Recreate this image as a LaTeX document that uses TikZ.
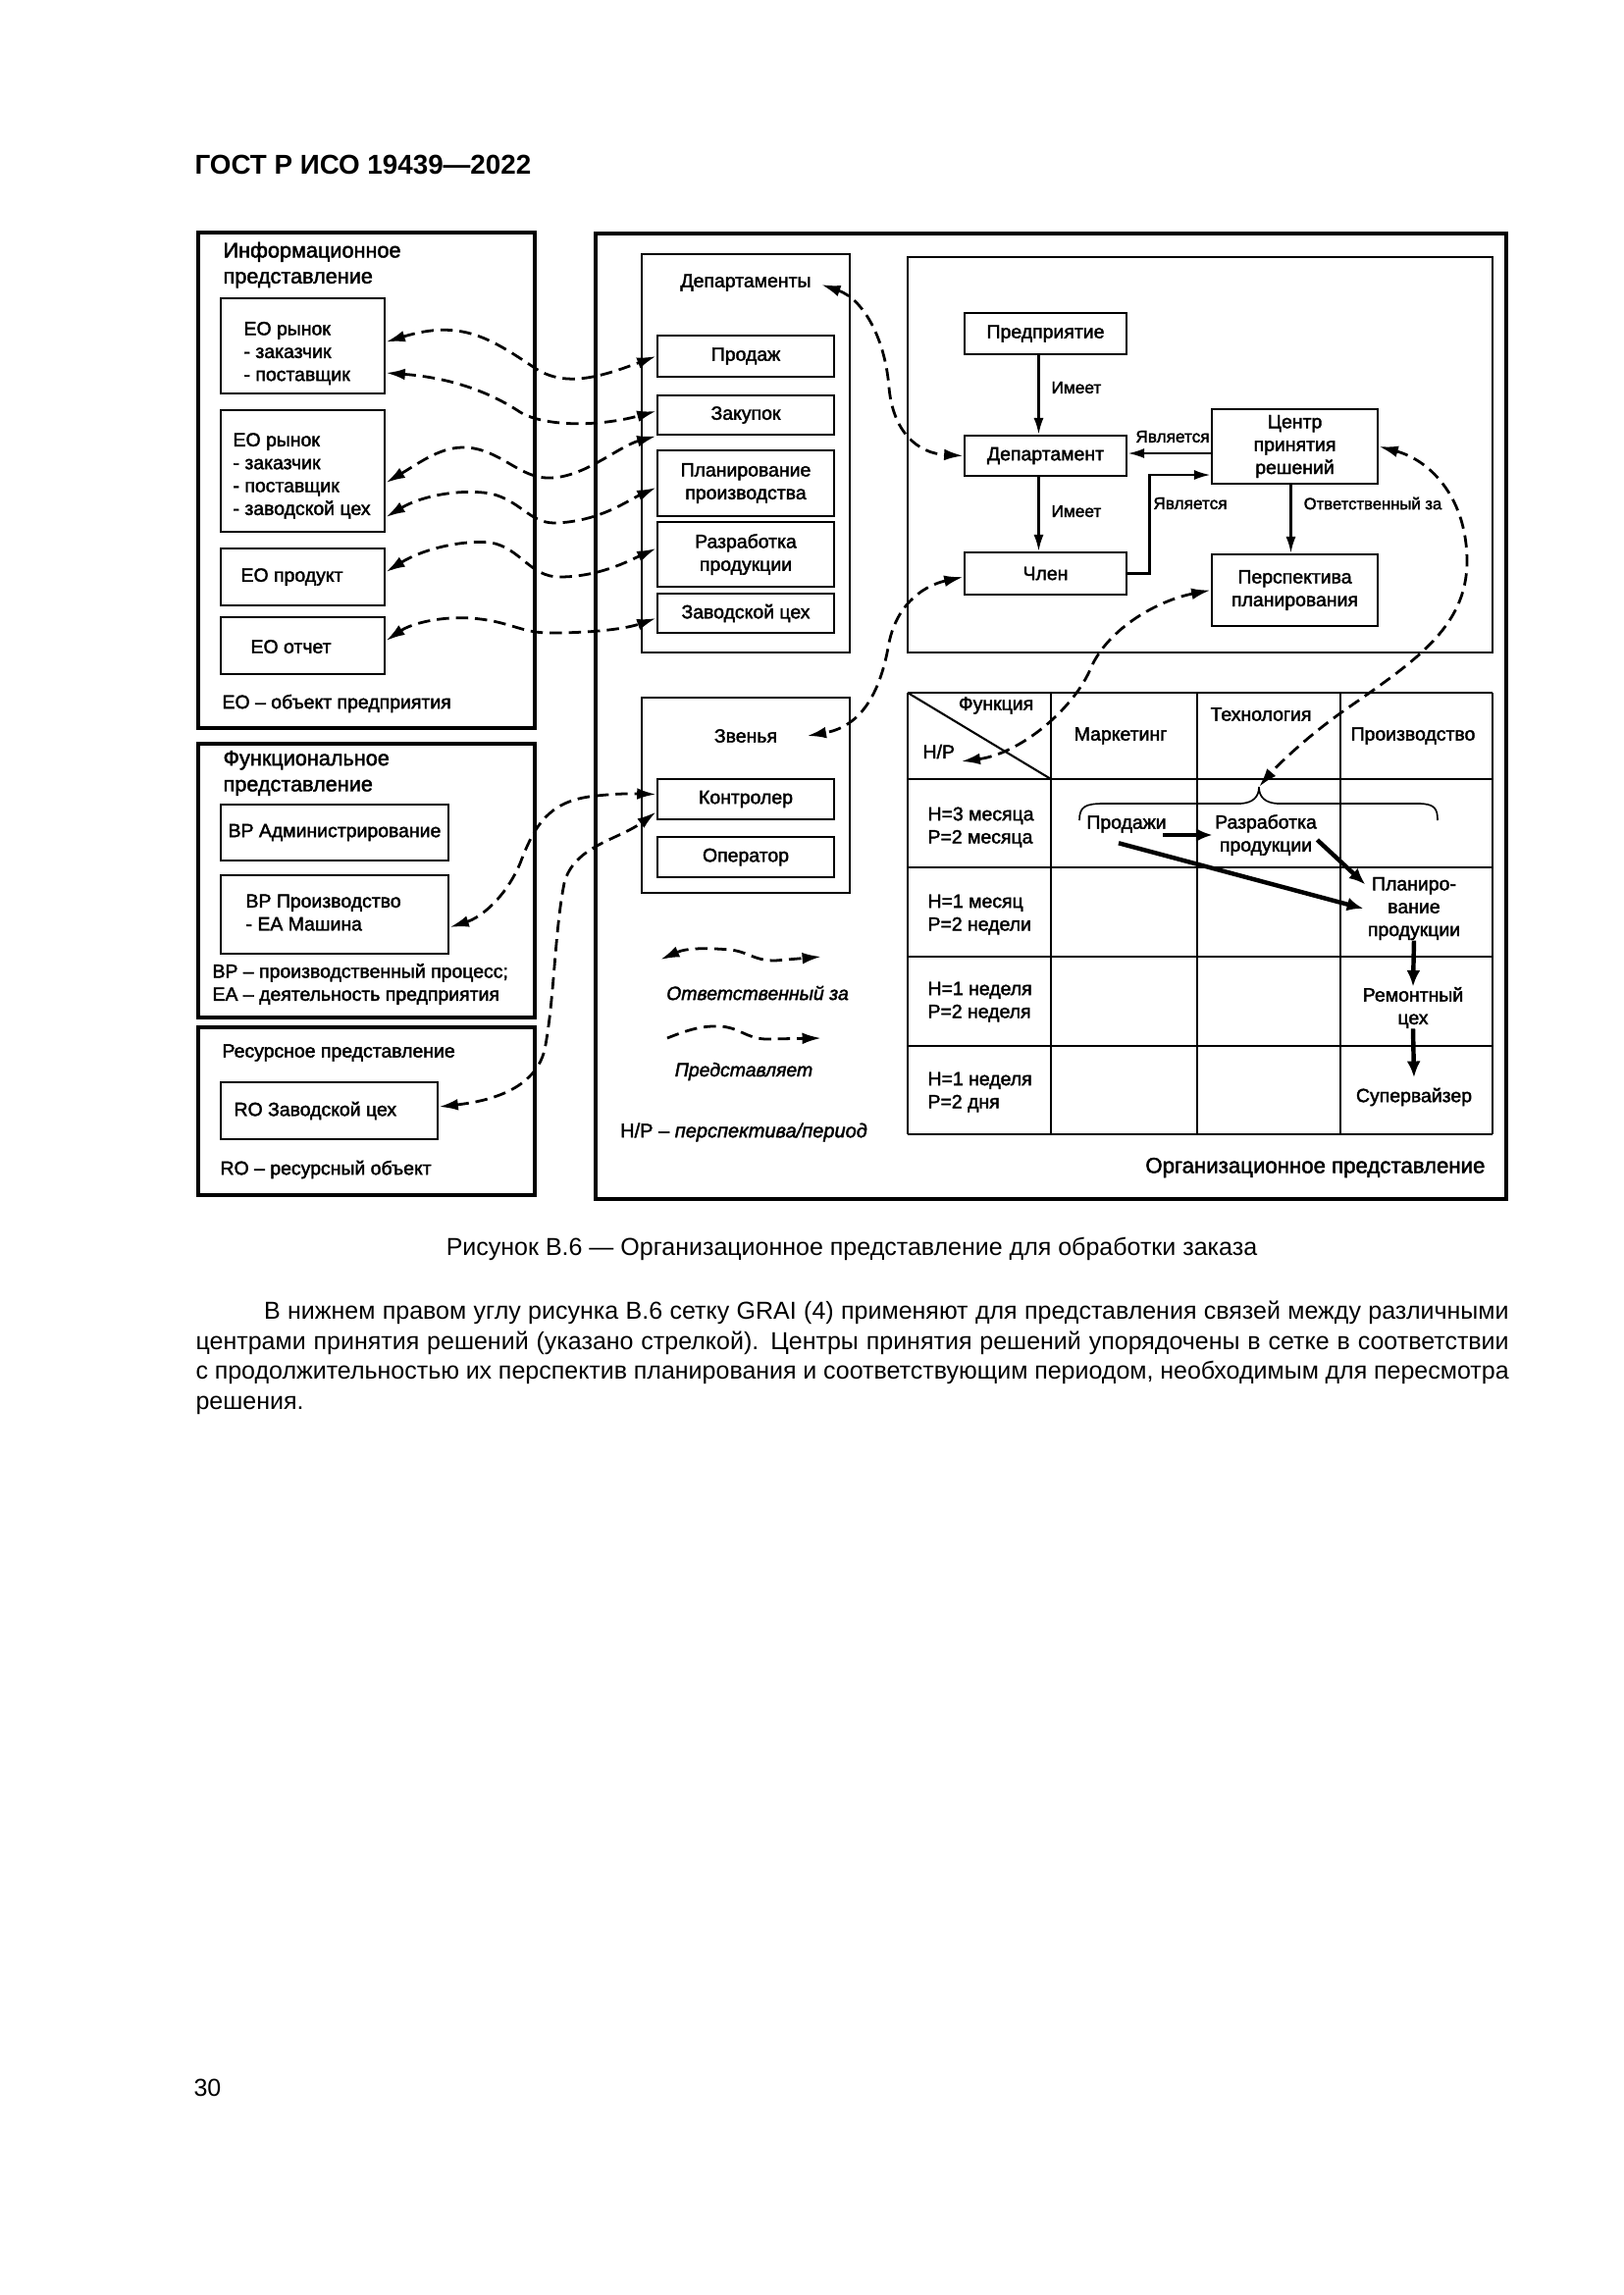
\documentclass[tikz,border=0pt]{standalone}
\usepackage{fontspec}
\setmainfont{Liberation Sans}
\newfontfamily\dg{Liberation Sans}[FakeBold=2]
\usetikzlibrary{arrows.meta,calc}
\tikzset{
 outerbox/.style={line width=1.6pt},
 contbox/.style={line width=0.8pt},
 gridline/.style={line width=0.75pt},
 box/.style={draw, line width=1pt, inner sep=0pt, align=center, font=\dg\fontsize{7}{8.4}\selectfont},
 txt/.style={inner sep=0pt, align=left, font=\dg\fontsize{7}{8.4}\selectfont},
 ttl/.style={inner sep=0pt, align=left, font=\dg\fontsize{7.8}{9.5}\selectfont},
 lbl/.style={inner sep=0pt, font=\dg\fontsize{6.2}{7}\selectfont},
 itl/.style={inner sep=0pt, font=\dg\itshape\fontsize{7}{9}\selectfont},
 dd/.style={line width=1pt, dash pattern=on 4.5pt off 2.5pt, {Latex[length=7pt,width=4.2pt]}-{Latex[length=7pt,width=4.2pt]}},
 ds/.style={line width=1pt, dash pattern=on 4.5pt off 2.5pt, -{Latex[length=7pt,width=4.2pt]}},
 sarrow/.style={line width=0.8pt, -{Latex[length=6pt,width=3.6pt]}},
 garrow/.style={line width=1.6pt, -{Latex[length=6pt,width=5pt]}},
}
\newcommand\mkbox[6][]{\node[box,minimum width={(#5-#3)*0.36pt},minimum height={(#6-#4)*0.36pt},#1] (#2) at ({(#3+#5)/2},{(#4+#6)/2})}
\begin{document}
\begin{tikzpicture}[x=0.36pt,y=-0.36pt]
\fill[white] (0,0) rectangle (1654,2339);
\useasboundingbox (0,0) rectangle (1654,2339);

% header
\node[inner sep=0pt, anchor=west, font=\bfseries\fontsize{10}{12}\selectfont] (hdr) at (198,168) {ГОСТ Р ИСО 19439—2022};

% containers
\draw[outerbox] (202,237) rectangle (545,742);
\draw[outerbox] (202,758) rectangle (545,1037);
\draw[outerbox] (202,1047) rectangle (545,1218);
\draw[outerbox] (607,238) rectangle (1535,1222);
\draw[contbox] (654,259) rectangle (866,665);
\draw[contbox] (654,711) rectangle (866,910);
\draw[contbox] (925,262) rectangle (1521,665);

% information view
\node[ttl, anchor=west] (infoT) at (227,270) {Информационное\\представление};
\mkbox{eo1}{225}{304}{392}{401}{};
\node[txt, anchor=west] (eo1t) at (248,360) {EO рынок\\- заказчик\\- поставщик};
\mkbox{eo2}{225}{418}{392}{542}{};
\node[txt, anchor=west] (eo2t) at (237,485) {EO рынок\\- заказчик\\- поставщик\\- заводской цех};
\mkbox{eo3}{225}{559}{392}{617}{};
\node[txt, anchor=west] (eo3t) at (245,588) {EO продукт};
\mkbox{eo4}{225}{629}{392}{687}{};
\node[txt, anchor=west] (eo4t) at (255,659) {EO отчет};
\node[txt, anchor=west] (eoleg) at (226,717) {EO – объект предприятия};

% functional view
\node[ttl, anchor=west] (funcT) at (227,788) {Функциональное\\представление};
\mkbox{bp1}{225}{820}{457}{877}{BP Администрирование};
\mkbox{bp2}{225}{892}{457}{972}{};
\node[txt, anchor=west] (bp2t) at (250,930) {BP Производство\\- EA Машина};
\node[txt, anchor=west] (bpleg) at (216,1003) {BP – производственный процесс;\\EA – деятельность предприятия};

% resource view
\node[txt, anchor=west] (resT) at (226,1073) {Ресурсное представление};
\mkbox{ro}{225}{1103}{446}{1161}{};
\node[txt, anchor=west] (rot) at (238,1132) {RO Заводской цех};
\node[txt, anchor=west] (roleg) at (224,1192) {RO – ресурсный объект};

% departments
\node[txt] (depT) at (760,288) {Департаменты};
\mkbox{prod}{670}{342}{850}{384}{Продаж};
\mkbox{zak}{670}{403}{850}{443}{Закупок};
\mkbox{plan}{670}{459}{850}{526}{Планирование\\производства};
\mkbox{razr}{670}{532}{850}{598}{Разработка\\продукции};
\mkbox{zav}{670}{605}{850}{645}{Заводской цех};

% links
\node[txt] (zvT) at (760,750) {Звенья};
\mkbox{kontr}{670}{794}{850}{835}{Контролер};
\mkbox{oper}{670}{853}{850}{894}{Оператор};

% top model
\mkbox{pred}{983}{319}{1148}{361}{Предприятие};
\mkbox{dep}{983}{444}{1148}{485}{Департамент};
\mkbox{chlen}{983}{563}{1148}{606}{Член};
\mkbox{centr}{1235}{417}{1404}{493}{Центр\\принятия\\решений};
\mkbox{persp}{1235}{565}{1404}{638}{Перспектива\\планирования};
\draw[sarrow] ($(pred.south)+(-7,0)$) -- ($(dep.north)+(-7,0)$);
\node[lbl, anchor=west] (has1) at (1071,395) {Имеет};
\draw[sarrow] ($(dep.south)+(-7,0)$) -- ($(chlen.north)+(-7,0)$);
\node[lbl, anchor=west] (has2) at (1071,521) {Имеет};
\draw[sarrow] ($(centr.west)+(0,7)$) -- ($(dep.east)+(0,-2.5)$);
\node[lbl] (is1) at (1195,445) {Является};
\draw[sarrow] (chlen.east) -- ++(22,0) |- ($(centr.west)+(0,29)$);
\node[lbl] (is2) at (1213,513) {Является};
\draw[sarrow] ($(centr.south)+(-4,0)$) -- ($(persp.north)+(-4,0)$);
\node[lbl, font=\dg\fontsize{6}{7}\selectfont] (resp) at (1399,513) {Ответственный за};

% GRAI grid
\foreach \x in {925,1071,1220,1366,1521} \draw[gridline] (\x,706) -- (\x,1156);
\foreach \y in {706,794,884,975,1066,1156} \draw[gridline] (925,\y) -- (1521,\y);
\draw[gridline] (925,706) -- (1071,794);
\node[txt] (gFun) at (1015,719) {Функция};
\node[txt, anchor=west] (gHP) at (940,766) {H/P};
\node[txt] (gMark) at (1142,750) {Маркетинг};
\node[txt] (gTech) at (1285,728) {Технология};
\node[txt] (gProiz) at (1440,750) {Производство};
\node[txt, anchor=west] (r1) at (945,843) {H=3 месяца\\P=2 месяца};
\node[txt, anchor=west] (r2) at (945,932) {H=1 месяц\\P=2 недели};
\node[txt, anchor=west] (r3) at (945,1021) {H=1 неделя\\P=2 неделя};
\node[txt, anchor=west] (r4) at (945,1113) {H=1 неделя\\P=2 дня};
\node[txt] (gProd) at (1148,840) {Продажи};
\node[txt, align=center] (gRazr) at (1290,851) {Разработка\\продукции};
\node[txt, align=center] (gPlan) at (1441,926) {Планиро-\\вание\\продукции};
\node[txt, align=center] (gRem) at (1440,1027) {Ремонтный\\цех};
\node[txt] (gSup) at (1441,1118) {Супервайзер};
\coordinate (brL) at (1100,836);
\coordinate (brR) at (1465,836);
\coordinate (brTip) at (1283,802);
\draw[line width=0.6pt] (brL) .. controls (1100,822) and (1106,819) .. (1125,819) -- (1262,819) .. controls (1277,819) and (1283,812) .. (brTip) .. controls (1283,812) and (1289,819) .. (1304,819) -- (1445,819) .. controls (1462,819) and (1465,824) .. (brR);
\draw[garrow] ($(gProd.east)+(-4,11)$) -- ($(gRazr.west)+(-2,0)$);
\draw[garrow] ($(gProd.south)+(-8,10)$) -- ($(gPlan.west)+(-4,0)$);
\draw[garrow] ($(gRazr.east)+(0,5)$) -- ($(gPlan.north west)+(-2,8)$);
\draw[garrow] (gPlan.south) -- (gRem.north);
\draw[garrow] (gRem.south) -- ($(gSup.north)+(0,-10)$);
\node[inner sep=0pt, anchor=east, font=\dg\fontsize{8}{9}\selectfont] (orgT) at (1514,1190) {Организационное представление};

% dashed connectors
\draw[dd] ($(eo1.east)+(0,-4)$) .. controls (470,325) and (500,345) .. (545,375) .. controls (575,395) and (610,385) .. (prod.west);
\draw[dd] ($(eo1.east)+(0,27.5)$) .. controls (460,385) and (500,400) .. (530,420) .. controls (555,435) and (610,435) .. ($(zak.west)+(0,-4)$);
\draw[dd] ($(eo2.east)+(0,12)$) .. controls (430,470) and (450,455) .. (475,456) .. controls (510,458) and (530,488) .. (560,487) .. controls (595,487) and (630,455) .. (zak.south west);
\draw[dd] ($(eo2.east)+(0,47)$) .. controls (430,505) and (470,498) .. (500,503) .. controls (530,510) and (540,533) .. (565,533) .. controls (610,532) and (640,510) .. ($(plan.west)+(0,4.5)$);
\draw[dd] ($(eo3.east)+(0,-5)$) .. controls (430,560) and (470,550) .. (500,553) .. controls (530,558) and (540,588) .. (570,588) .. controls (610,588) and (640,572) .. ($(razr.west)+(0,-6)$);
\draw[dd] ($(eo4.east)+(0,-5)$) .. controls (420,635) and (450,628) .. (480,630) .. controls (520,633) and (530,645) .. (560,645) .. controls (610,645) and (640,640) .. ($(zav.west)+(0,5)$);
\draw[dd] ($(depT.east)+(10,2)$) .. controls (880,305) and (902,345) .. (906,395) .. controls (910,440) and (935,462) .. (dep.west);
\draw[dd] ($(bp2.east)+(0,13)$) .. controls (490,935) and (515,915) .. (530,880) .. controls (545,840) and (560,818) .. (600,812) .. controls (630,808) and (650,809) .. ($(kontr.west)+(0,-5)$);
\draw[dd] ($(ro.east)+(0,-4)$) .. controls (500,1122) and (545,1110) .. (555,1070) .. controls (565,1020) and (565,950) .. (575,900) .. controls (585,862) and (630,856) .. ($(kontr.west)+(0,13)$);
\draw[dd] ($(chlen.west)+(0,3.5)$) .. controls (945,596) and (915,612) .. (906,655) .. controls (898,702) and (880,740) .. ($(zvT.east)+(30,0)$);
\draw[dd] (persp.west) .. controls (1180,612) and (1130,640) .. (1112,680) .. controls (1095,722) and (1040,768) .. ($(gHP.east)+(6,10)$);
\draw[dd] (centr.east) .. controls (1460,470) and (1495,510) .. (1495,572) .. controls (1495,640) and (1440,675) .. (1370,724) .. controls (1330,752) and (1300,782) .. (brTip);

% legend
\coordinate (l1a) at (673,978);
\coordinate (l1b) at (837,975);
\draw[dd] (l1a) .. controls (700,966) and (720,966) .. (745,968) .. controls (765,971) and (768,979) .. (790,979) -- (l1b);
\node[itl] (legResp) at (772,1012) {Ответственный за};
\coordinate (l2a) at (680,1058);
\coordinate (l2b) at (837,1058);
\draw[ds] (l2a) .. controls (700,1050) and (715,1045) .. (735,1046) .. controls (755,1048) and (760,1058) .. (780,1059) -- (l2b);
\node[itl] (legRep) at (758,1092) {Представляет};
\node[inner sep=0pt, font=\dg\fontsize{7.2}{9}\selectfont] (legHP) at (758,1154) {H/P – \textit{перспектива/период}};

% caption and body
\node[inner sep=0pt, font=\fontsize{9}{11}\selectfont] (cap) at (868,1273) {Рисунок В.6 — Организационное представление для обработки заказа};
\node[inner sep=0pt, anchor=west, text width=481.7pt, align=justify, font=\fontsize{9}{11}\selectfont] (body) at (199,1384) {\spaceskip=0.278em plus 0.4em minus 0.12em\hspace*{25pt}В нижнем правом углу рисунка В.6 сетку GRAI (4) применяют для представления связей между различными\linebreak центрами принятия решений (указано стрелкой). Центры принятия решений упорядочены в сетке в соответствии\linebreak с продолжительностью их перспектив планирования и соответствующим периодом, необходимым для пересмотра\linebreak решения.};
\node[inner sep=0pt, anchor=west, font=\fontsize{9}{11}\selectfont] (pnum) at (197,2128) {30};
\end{tikzpicture}
\end{document}
